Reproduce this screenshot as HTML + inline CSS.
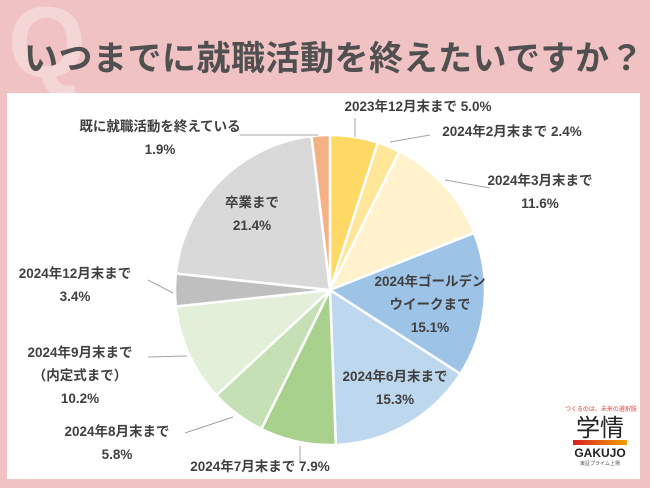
<!DOCTYPE html>
<html><head><meta charset="utf-8"><style>
body{margin:0;width:650px;height:488px;overflow:hidden;background:#f1c2c3;font-family:"Liberation Sans","Noto Sans CJK JP",sans-serif}
#root{position:relative;width:650px;height:488px}
</style></head><body>
<div id="root">
<div style="position:absolute;left:8px;top:-14px;font-size:100px;font-weight:bold;color:#f5d6d7">Q</div>
<div style="position:absolute;left:24px;top:31px;font-size:34px;font-weight:bold;color:#505050;letter-spacing:0.5px;font-family:'Noto Sans CJK JP',sans-serif">いつまでに就職活動を終えたいですか？</div>
<div style="position:absolute;left:7px;top:93px;width:633px;height:386px;background:#fff"></div>
<svg id="chart" width="650" height="488" style="position:absolute;left:0;top:0"></svg>
<div style="position:absolute;left:565px;top:404px;width:70px;text-align:center">
<div style="font-size:6px;color:#e04040;white-space:nowrap">つくるのは、未来の選択肢</div>
<div style="font-size:24px;line-height:26px;color:#222;font-family:'Noto Sans CJK JP',sans-serif">学情</div>
<div style="height:5px;background:linear-gradient(90deg,#d82020,#f0a000);margin:1px 8px"></div>
<div style="font-size:12px;font-weight:bold;color:#222">GAKUJO</div>
<div style="font-size:5px;color:#555">東証プライム上場</div>
</div>
</div>
<script>
const categories=["2023年12月末まで","2024年2月末まで","2024年3月末まで","2024年ゴールデンウイークまで","2024年6月末まで","2024年7月末まで","2024年8月末まで","2024年9月末まで（内定式まで）","2024年12月末まで","卒業まで","既に就職活動を終えている"];
const values=[5.0,2.4,11.6,15.1,15.3,7.9,5.8,10.2,3.4,21.4,1.9];
const colors=["#ffd966","#ffe699","#fff2cc","#9dc3e6","#bdd7ee","#a9d18e","#c5e0b4","#e2f0d9","#bfbfbf","#d9d9d9","#f4b183"];
const labelLines=[["2023年12月末まで  5.0%"],["2024年2月末まで  2.4%"],["2024年3月末まで","11.6%"],["2024年ゴールデン","ウイークまで","15.1%"],["2024年6月末まで","15.3%"],["2024年7月末まで  7.9%"],["2024年8月末まで","5.8%"],["2024年9月末まで","（内定式まで）","10.2%"],["2024年12月末まで","3.4%"],["卒業まで","21.4%"],["既に就職活動を終えている","1.9%"]];
const labelPos=[[418,111,"middle"],[512,136,"middle"],[540,185,"middle"],[430,286,"middle"],[395,381,"middle"],[260,471,"middle"],[117,436,"middle"],[80,357,"middle"],[75,278,"middle"],[252,207,"middle"],[160,131,"middle"]];
const leaders=[[[355,137],[355,118]],[[390,142],[430,135]],[[445,180],[490,188]],null,null,[[300,446],[300,462]],[[233,417],[185,433]],[[187,356],[148,357]],[[173,293],[148,280]],null,[[318,135],[240,135]]];
const svg=document.getElementById('chart');const NS="http://www.w3.org/2000/svg";
const cx=330,cy=290,r=155;
const total=values.reduce((a,b)=>a+b,0);
function pt(a,rr){return [cx+rr*Math.sin(a),cy-rr*Math.cos(a)];}
let acc=0;
values.forEach((v,i)=>{
 const a0=acc/total*2*Math.PI;acc+=v;const a1=acc/total*2*Math.PI;
 const p0=pt(a0,r),p1=pt(a1,r);
 const p=document.createElementNS(NS,'path');
 p.setAttribute('d',`M${cx},${cy}L${p0[0]},${p0[1]}A${r},${r} 0 ${a1-a0>Math.PI?1:0} 1 ${p1[0]},${p1[1]}Z`);
 p.setAttribute('fill',colors[i]);p.setAttribute('stroke','#fff');p.setAttribute('stroke-width','2.5');
 
 
 svg.appendChild(p);
});
leaders.forEach((l,i)=>{if(!l)return;
 const ln=document.createElementNS(NS,'polyline');
 ln.setAttribute('points',l.map(q=>q.join(',')).join(' '));ln.setAttribute('fill','none');ln.setAttribute('stroke','#a6a6a6');ln.setAttribute('stroke-width','1');
 
 
 svg.appendChild(ln);
});
labelLines.forEach((lines,i)=>{
 const [x,y,anc]=labelPos[i];
 const t=document.createElementNS(NS,'text');
 t.setAttribute('x',x);t.setAttribute('y',y);t.setAttribute('text-anchor',anc);
 t.setAttribute('font-size','13.5');t.setAttribute('font-weight','bold');t.setAttribute('fill','#404040');
 
 
 lines.forEach((s,j)=>{const ts=document.createElementNS(NS,'tspan');ts.setAttribute('x',x);ts.setAttribute('dy',j?23:0);ts.textContent=s;t.appendChild(ts);});
 svg.appendChild(t);
});
</script>
</body></html>
